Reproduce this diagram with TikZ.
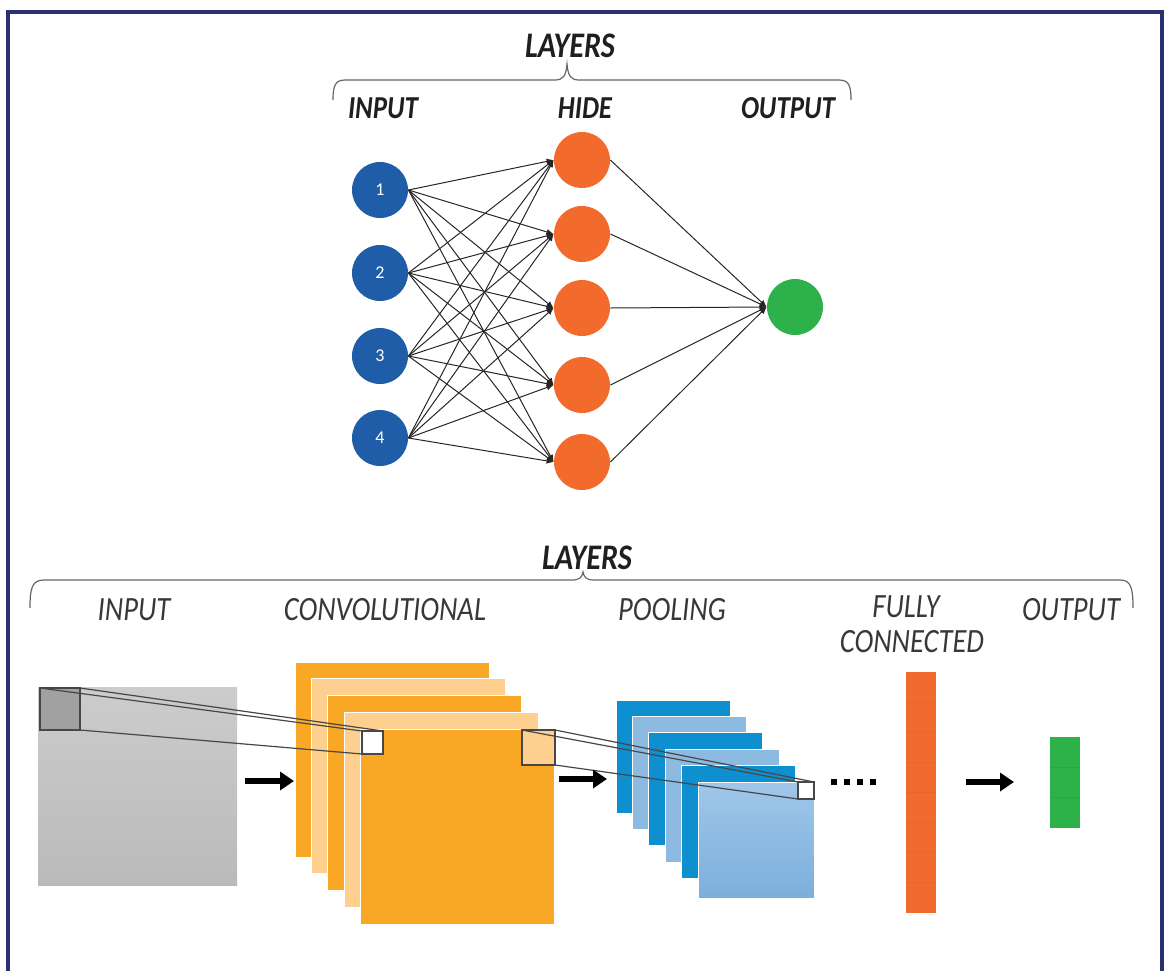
\documentclass[tikz,border=0pt]{standalone}
\usepackage{fontspec}
\setmainfont{Carlito}
\newfontfamily\labfont[FakeStretch=0.84]{Carlito}
\usetikzlibrary{arrows.meta,calc}
\definecolor{navy}{HTML}{2A3172}
\definecolor{nnblue}{HTML}{1F5DA8}
\definecolor{nnorange}{HTML}{F26A2C}
\definecolor{nngreen}{HTML}{2EB04B}
\definecolor{convdark}{HTML}{F8A824}
\definecolor{convlight}{HTML}{FDD08F}
\definecolor{pooldark}{HTML}{0E8FCF}
\definecolor{poollight}{HTML}{8DBAE1}
\definecolor{pooltop}{HTML}{A0C7E9}
\definecolor{poolbot}{HTML}{7BAFDB}
\definecolor{fcorange}{HTML}{F26B2E}
\definecolor{outgreen}{HTML}{2DB24A}
\tikzset{
  neuron/.style={circle, minimum size=28pt, inner sep=0pt, font=\fontsize{9}{9}\selectfont, text=white},
  wire/.style={draw=black!85, line width=0.5pt, -{Latex[length=3.5pt,width=3pt]}},
  toplabel/.style={font=\labfont\bfseries\itshape\fontsize{16}{16}\selectfont, text=black!88, anchor=base, inner sep=0pt},
  biglabel/.style={font=\labfont\bfseries\itshape\fontsize{18}{18}\selectfont, text=black!88, anchor=base, inner sep=0pt},
  botlabel/.style={font=\labfont\itshape\fontsize{17}{17}\selectfont, text=black!78, anchor=base, inner sep=0pt},
  bracepath/.style={draw=black!60, line width=0.6pt},
  bigarrow/.style={line width=2.8pt, -{Triangle[length=7pt,width=9pt]}},
  proj/.style={draw=black!72, line width=0.6pt},
  win/.style={rectangle, inner sep=0pt, outer sep=0pt, anchor=north west, draw=black!72, line width=0.6pt},
  layer/.style={draw=white, line width=0.5pt}
}
\begin{document}
\begin{tikzpicture}[x=0.5pt,y=-0.5pt]
\useasboundingbox (0,0) rectangle (1167,970);
% frame
\draw[navy, line width=2pt] (8,972) -- (8,12) -- (1162,12) -- (1162,972);

% ---------- top network ----------
\node[biglabel] (layersA) at (570,57) {LAYERS};
\draw[bracepath] (333,100) .. controls (333,86) and (335,80) .. (345,80) -- (555,80)
  .. controls (563,80) and (566,76) .. (567,64) .. controls (568,76) and (571,80) .. (579,80)
  -- (839,80) .. controls (849,80) and (851,86) .. (851,100);
\node[toplabel] (tIn) at (383,118) {INPUT};
\node[toplabel] (tHide) at (585,118) {HIDE};
\node[toplabel] (tOut) at (788,118) {OUTPUT};

\foreach \n/\y in {1/190,2/273,3/356,4/438}
  \node[neuron, fill=nnblue] (i\n) at (380,\y) {\n};
\foreach \n/\y in {1/160,2/234,3/308,4/385,5/462}
  \node[neuron, fill=nnorange] (h\n) at (582,\y) {};
\node[neuron, fill=nngreen] (o) at (795,307) {};

\foreach \a in {1,...,4}{\foreach \b in {1,...,5}{\draw[wire] (i\a.east) -- (h\b.west);}}
\foreach \b in {1,...,5}{\draw[wire] (h\b.east) -- (o.west);}

% ---------- bottom CNN ----------
\node[biglabel] (layersB) at (587,569) {LAYERS};
\draw[bracepath] (30,608) .. controls (30,588) and (32,580) .. (44,580) -- (572,580)
  .. controls (580,580) and (582,577) .. (583,572) .. controls (584,577) and (586,580) .. (594,580)
  -- (1120,580) .. controls (1131,580) and (1133,588) .. (1133,608);
\node[botlabel] (bIn) at (134,620) {INPUT};
\node[botlabel] (bConv) at (385,620) {CONVOLUTIONAL};
\node[botlabel] (bPool) at (672,620) {POOLING};
\node[botlabel] (bFull) at (906,617) {FULLY};
\node[botlabel] (bConn) at (912,652) {CONNECTED};
\node[botlabel] (bOut) at (1071,620) {OUTPUT};

% input image
\shade[top color=gray!40, bottom color=gray!54] (38,687) rectangle (237,885);
\node[win, fill=gray!74, minimum width=20pt, minimum height=21pt] (kernel) at (40,688) {};

% convolution layers
\foreach \k/\c in {0/convdark,1/convlight,2/convdark,3/convlight,4/convdark}
  \filldraw[layer, fill=\c] (295+16.4*\k, 662+16.8*\k) rectangle (489+16.4*\k, 857+16.8*\k);
\node[win, fill=white, minimum width=10.5pt, minimum height=11.5pt] (cwin) at (362,731) {};
\node[win, fill=convlight, minimum width=16.5pt, minimum height=17.5pt] (csq) at (522,730) {};

% pooling layers
\foreach \k/\c in {0/pooldark,1/poollight,2/pooldark,3/poollight,4/pooldark}
  \filldraw[layer, fill=\c] (616+16.4*\k, 700+16.4*\k) rectangle (730+16.4*\k, 813+16.4*\k);
\shade[top color=pooltop, bottom color=poolbot] (698,782) rectangle (814,898);
\draw[layer] (698,782) rectangle (814,898);
\node[win, fill=white, minimum width=8pt, minimum height=8.5pt] (pwin) at (798,782) {};

% projection lines
\draw[proj] (kernel.north west) -- (cwin.north west);
\draw[proj] (kernel.north east) -- (cwin.north east);
\draw[proj] (kernel.south east) -- (cwin.south west);
\draw[proj] (csq.north west) -- (pwin.north west);
\draw[proj] (csq.north east) -- (pwin.north east);
\draw[proj] (csq.south east) -- (pwin.south west);

% arrows
\coordinate (a1s) at (245,781); \coordinate (a1e) at (294,781);
\coordinate (a2s) at (559,779); \coordinate (a2e) at (607,779);
\coordinate (a3s) at (966,782); \coordinate (a3e) at (1014,782);
\draw[bigarrow] (a1s) -- (a1e);
\draw[bigarrow] (a2s) -- (a2e);
\draw[bigarrow] (a3s) -- (a3e);
\foreach \k in {0,...,3} \fill (831+13*\k,779) rectangle ++(6,6);

% fully connected bar
\fill[fcorange] (906,672) rectangle (936,913);
\foreach \k in {1,...,7} \draw[fcorange!85!black, line width=0.3pt, opacity=0.3] (906,672+30.1*\k) -- (936,672+30.1*\k);
% output bar
\fill[outgreen] (1050,737) rectangle (1080,828);
\foreach \k in {1,2} \draw[outgreen!80!black, line width=0.3pt, opacity=0.3] (1050,737+30.3*\k) -- (1080,737+30.3*\k);
\end{tikzpicture}
\end{document}
